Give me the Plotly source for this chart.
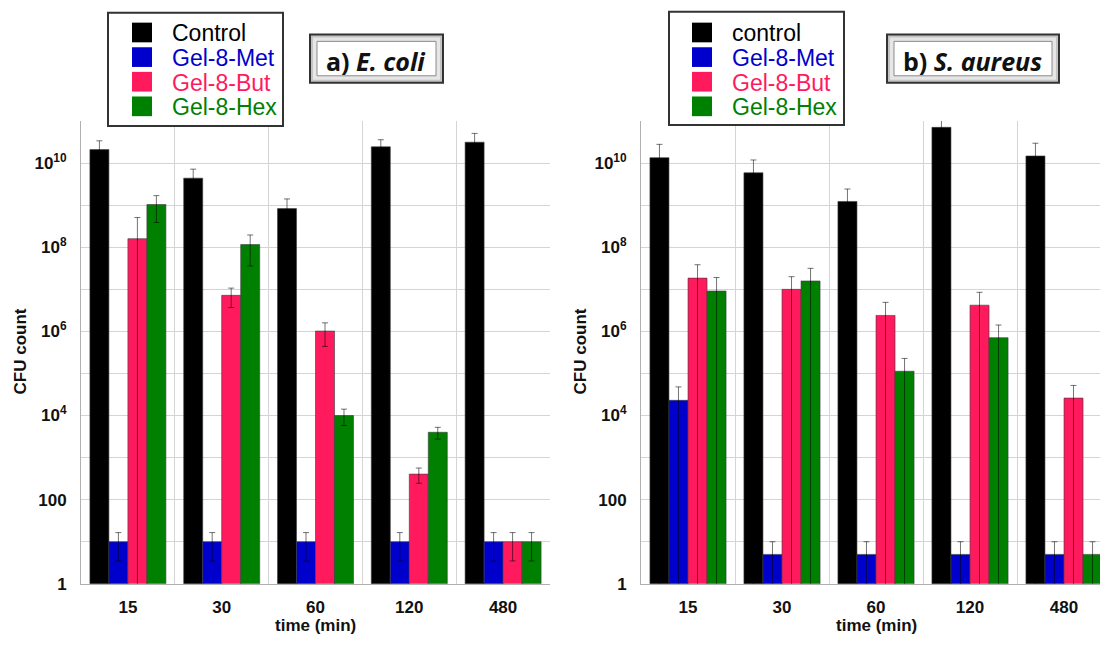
import plotly.graph_objects as go

# ---------------- data ----------------
categories = ["15", "30", "60", "120", "480"]

names_a = ["Control", "Gel-8-Met", "Gel-8-But", "Gel-8-Hex"]
names_b = ["control", "Gel-8-Met", "Gel-8-But", "Gel-8-Hex"]

ecoli_control = [2.1e10, 4.4e9, 8.3e8, 2.45e10, 3.15e10]
ecoli_control_err = [1.3e10, 2.8e9, 5.8e8, 1.15e10, 1.95e10]
ecoli_met = [10, 10, 10, 10, 10]
ecoli_met_err = [6.5, 6.5, 6.5, 6.5, 6.5]
ecoli_but = [1.6e8, 7.2e6, 1.02e6, 405, 10]
ecoli_but_err = [3.5e8, 3.5e6, 5.8e5, 160, 6.5]
ecoli_hex = [1.04e9, 1.16e8, 1.0e4, 4.0e3, 10]
ecoli_hex_err = [6.5e8, 8e7, 4.2e3, 1.25e3, 6.5]

saureus_control = [1.35e10, 5.9e9, 1.23e9, 7.1e10, 1.48e10]
saureus_control_err = [1.45e10, 6e9, 1.2e9, 3.4e10, 1.5e10]
saureus_met = [2.3e4, 5, 5, 5, 5]
saureus_met_err = [2.5e4, 5, 5, 5, 5]
saureus_but = [1.85e7, 1e7, 2.4e6, 4.2e6, 2.6e4]
saureus_but_err = [2e7, 1e7, 2.5e6, 4.3e6, 2.6e4]
saureus_hex = [9.1e6, 1.58e7, 1.13e5, 7.1e5, 5]
saureus_hex_err = [1e7, 1.58e7, 1.15e5, 7.1e5, 5]

y_tick_vals = [1, 100, 1e4, 1e6, 1e8, 1e10]
y_tick_text = ["1", "100", "10<sup>4</sup>", "10<sup>6</sup>", "10<sup>8</sup>", "10<sup>10</sup>"]
y_minor_vals = [10, 1e3, 1e5, 1e7, 1e9, 1e11]

colors = ["#000000", "#0000CC", "#FF1A5E", "#008000"]

# ---------------- figure ----------------
W, H = 1100, 645
def px(x): return x / W
def py(y): return 1 - y / H

FONT = "Liberation Sans, Arial, sans-serif"
xpos = list(range(len(categories)))
bounds = [i - 0.5 for i in range(len(categories) + 1)]

fig = go.Figure()

panels = [
    ("x", "y", [ecoli_control, ecoli_met, ecoli_but, ecoli_hex],
     [ecoli_control_err, ecoli_met_err, ecoli_but_err, ecoli_hex_err], names_a),
    ("x2", "y2", [saureus_control, saureus_met, saureus_but, saureus_hex],
     [saureus_control_err, saureus_met_err, saureus_but_err, saureus_hex_err], names_b),
]
for xa, ya, series, errs, names in panels:
    for vals, err, name, col in zip(series, errs, names, colors):
        fig.add_trace(go.Bar(
            x=xpos, y=vals, name=name, xaxis=xa, yaxis=ya, showlegend=False,
            marker=dict(color=col, line=dict(color="rgba(60,60,60,0.6)", width=1)),
            error_y=dict(type="data", array=err, symmetric=True,
                         color="rgba(0,0,0,0.55)", thickness=1, width=3),
        ))

xcommon = dict(
    range=[-0.5, 4.5], tickmode="array", tickvals=xpos, ticktext=categories,
    showgrid=False, zeroline=False, showline=True, linecolor="#b0b0b0", linewidth=1,
    ticks="", ticklabelstandoff=8,
    tickfont=dict(family=FONT, size=17, color="#111111", weight="bold"),
    minor=dict(tickmode="array", tickvals=bounds, showgrid=True,
               gridcolor="#d4d4d4", gridwidth=1, ticks=""),
)
ycommon = dict(
    type="log", range=[0, 11], tickmode="array", tickvals=y_tick_vals,
    ticktext=y_tick_text, showgrid=True, gridcolor="#d4d4d4", gridwidth=1,
    zeroline=False, showline=True, linecolor="#b0b0b0", linewidth=1, ticks="",
    ticklabelstandoff=10,
    tickfont=dict(family=FONT, size=17, color="#111111", weight="bold"),
    minor=dict(tickmode="array", tickvals=y_minor_vals, showgrid=True,
               gridcolor="#d4d4d4", gridwidth=1, ticks=""),
    domain=[py(593), py(123)],
)

# right panel is cut by the image edge: keep ~94 px per category
right_left = 641
cat_px = 94.0
right_range_end = -0.5 + (W - right_left) / cat_px

fig.update_layout(
    width=W, height=H, margin=dict(l=0, r=0, t=0, b=0),
    paper_bgcolor="white", plot_bgcolor="white",
    barmode="group", bargap=0.19, bargroupgap=0,
    xaxis=dict(xcommon, domain=[px(81), px(550)], anchor="y"),
    yaxis=dict(ycommon, anchor="x"),
    xaxis2=dict(xcommon, domain=[px(right_left), 1.0], anchor="y2",
                range=[-0.5, right_range_end]),
    yaxis2=dict(ycommon, anchor="x2"),
)

shapes = []
annotations = []

# axis titles
for cx in (20, 580):
    annotations.append(dict(x=px(cx), y=py(357), xref="paper", yref="paper",
                            xanchor="center", yanchor="middle",
                            text="CFU count", textangle=-90, showarrow=False,
                            font=dict(family=FONT, size=17, color="#111111", weight="bold")))
for cx in (315.5, 876):
    annotations.append(dict(x=px(cx), y=py(635), xref="paper", yref="paper",
                            xanchor="center", yanchor="middle",
                            text="time (min)", showarrow=False,
                            font=dict(family=FONT, size=17, color="#111111", weight="bold")))

# legends (drawn manually for large swatches and coloured text)
for (lx0, ly0, lx1, ly1, sq_x, tx_x, names) in [
    (108, 13, 283, 128, 132, 170, names_a),
    (669, 12, 844, 127, 692, 730, names_b),
]:
    shapes.append(dict(type="rect", xref="paper", yref="paper",
                       x0=px(lx0), x1=px(lx1), y0=py(ly0), y1=py(ly1),
                       fillcolor="white", line=dict(color="#333333", width=2), layer="above"))
    for i, (name, col) in enumerate(zip(names, colors)):
        cy = 33 + 25 * i
        shapes.append(dict(type="rect", xref="paper", yref="paper",
                           x0=px(sq_x), x1=px(sq_x + 20), y0=py(cy - 10), y1=py(cy + 10),
                           fillcolor=col, line=dict(width=0), layer="above"))
        annotations.append(dict(x=px(tx_x), y=py(cy + 1), xref="paper", yref="paper",
                                xanchor="left", yanchor="middle", text=name, showarrow=False,
                                font=dict(family=FONT, size=23, color=col)))

# title boxes
for (bx0, by0, bx1, by1, label) in [
    (310, 35, 443, 84, "a) <i>E. coli</i>"),
    (887, 35, 1059, 84, "b) <i>S. aureus</i>"),
]:
    shapes.append(dict(type="rect", xref="paper", yref="paper",
                       x0=px(bx0), x1=px(bx1), y0=py(by0), y1=py(by1),
                       fillcolor="#c4c4c4", line=dict(color="#333333", width=2), layer="above"))
    shapes.append(dict(type="rect", xref="paper", yref="paper",
                       x0=px(bx0 + 3), x1=px(bx1 - 3), y0=py(by0 + 3), y1=py(by1 - 3),
                       fillcolor="#e6e6e6", line=dict(width=0), layer="above"))
    shapes.append(dict(type="rect", xref="paper", yref="paper",
                       x0=px(bx0 + 7), x1=px(bx1 - 7), y0=py(by0 + 7), y1=py(by1 - 7),
                       fillcolor="white", line=dict(color="#8a8a8a", width=1), layer="above"))
    annotations.append(dict(x=px((bx0 + bx1) / 2 - 1), y=py((by0 + by1) / 2 + 2),
                            xref="paper", yref="paper", text="<b>" + label + "</b>",
                            showarrow=False, xanchor="center", yanchor="middle",
                            font=dict(family="Open Sans, sans-serif", size=25, color="#111111")))

fig.update_layout(shapes=shapes, annotations=annotations)

# remove the default page margin so the figure fills the 1100x645 window exactly
fig.write_html(
    "out.html",
    config={"displayModeBar": False},
    post_script="document.body.style.margin='0';document.body.style.overflow='hidden';"
                "document.documentElement.style.overflow='hidden';",
)
